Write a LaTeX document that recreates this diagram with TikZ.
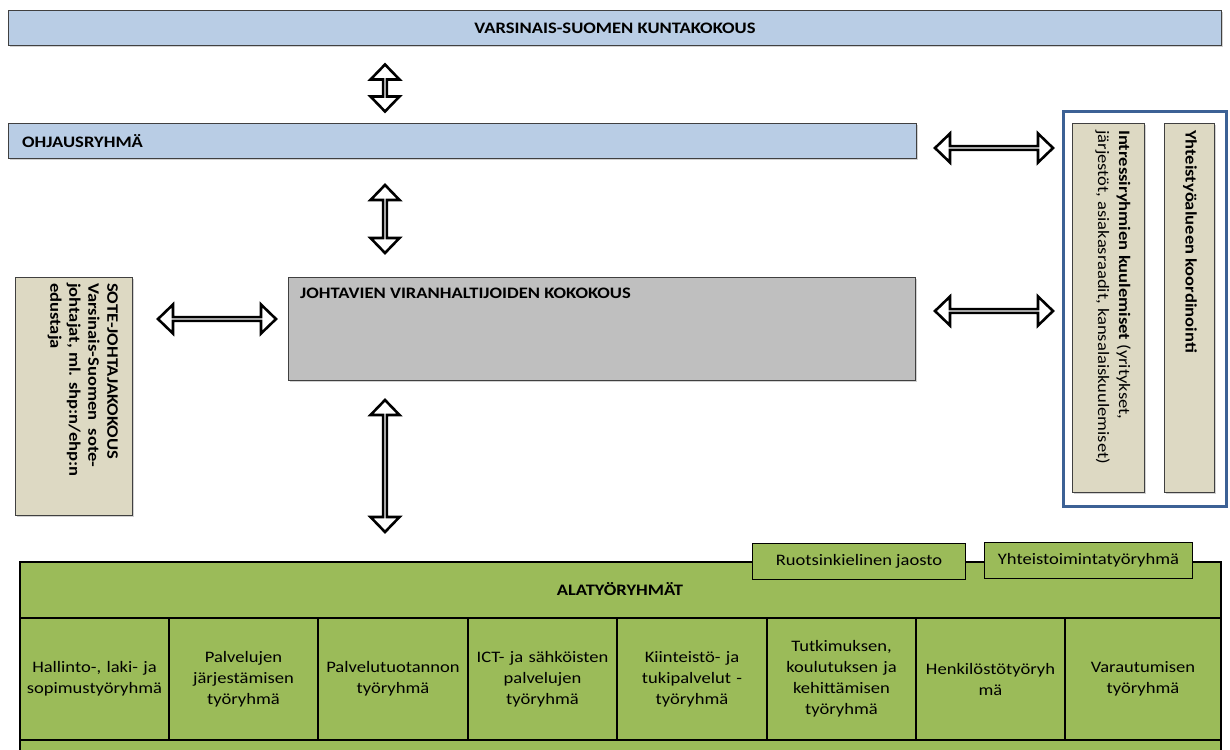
\documentclass[tikz,border=0pt]{standalone}
\usepackage{fontspec}
\setmainfont[FakeStretch=1.16]{Carlito}
\usetikzlibrary{shapes.arrows,shadows}
\definecolor{lblue}{HTML}{B9CDE5}
\definecolor{lgray}{HTML}{BFBFBF}
\definecolor{tan}{HTML}{DDD9C3}
\definecolor{grn}{HTML}{9BBB59}
\definecolor{frameblue}{HTML}{3C6195}
\tikzset{
  box/.style={draw=black!75, line width=0.9pt, anchor=north west, inner sep=0pt,
    drop shadow={shadow xshift=1.5pt, shadow yshift=-2pt, opacity=0.35}},
  dblarr/.style={double arrow, draw=black, fill=white, line width=2.6pt, inner sep=0pt,
    double arrow head extend=8.5pt, double arrow tip angle=88, minimum width=29pt},
  cell/.style={align=center, text width=146pt, font=\fontsize{16}{21}\selectfont},
  tab/.style={draw=black, line width=1pt, fill=grn, anchor=north west, inner sep=0pt,
    font=\fontsize{16}{19}\selectfont},
  rtext/.style={rotate=-90, anchor=north west, inner sep=0pt, align=left}
}
\begin{document}
\begin{tikzpicture}[x=1pt,y=-1pt]
\useasboundingbox (0,0) rectangle (1230,749);
\clip (0,0) rectangle (1230,749);
\fill[white] (0,0) rectangle (1230,749);

% top bar
\node[box, fill=lblue, minimum width=1213pt, minimum height=35pt] (kunta) at (8,10) {};
\node[font=\fontsize{16}{19}\selectfont\bfseries] (kuntat) at (kunta.center) {VARSINAIS-SUOMEN KUNTAKOKOUS};

% ohjausryhma
\node[box, fill=lblue, minimum width=908pt, minimum height=35pt] (ohj) at (8,123) {};
\node[font=\fontsize{16}{19}\selectfont\bfseries, anchor=west, inner sep=0pt] (ohjt) at ([xshift=14pt]ohj.west) {OHJAUSRYHMÄ};

% johtavien
\node[box, fill=lgray, minimum width=627pt, minimum height=103pt] (joht) at (288,277) {};
\node[font=\fontsize{16}{19}\selectfont\bfseries, anchor=north west, inner sep=0pt] (johtt) at (300,288) {JOHTAVIEN VIRANHALTIJOIDEN KOKOKOUS};

% left box
\node[box, fill=tan, minimum width=117pt, minimum height=238pt] (sote) at (15,277) {};
\node[rtext, font=\fontsize{16}{19}\selectfont\bfseries] (sotet) at (118,283)
  {SOTE-JOHTAJAKOKOUS\\Varsinais-Suomen\ \ sote-\\johtajat, ml. shp:n/ehp:n\\edustaja};

% right frame
\node[draw=frameblue, line width=2.8pt, anchor=north west, minimum width=163pt, minimum height=395pt, inner sep=0pt] (frame) at (1062,110) {};
\node[box, fill=tan, minimum width=72pt, minimum height=369pt] (intr) at (1072,123) {};
\node[box, fill=tan, minimum width=50pt, minimum height=369pt] (yht) at (1164,123) {};
\node[rtext, font=\fontsize{16}{21}\selectfont] (intrt) at (1131,130)
  {\textbf{Intressiryhmien kuulemiset} (yritykset,\\järjestöt, asiakasraadit, kansalaiskuulemiset)};
\node[rtext, font=\fontsize{16}{19}\selectfont\bfseries] (yhtt) at (1197,130) {Yhteistyöalueen koordinointi};

% arrows
\node[dblarr, minimum height=47pt, rotate=90] (a1) at (385,88) {};
\node[dblarr, minimum height=68pt, rotate=90] (a2) at (385,219) {};
\node[dblarr, minimum height=132pt, rotate=90] (a3) at (385,466) {};
\node[dblarr, minimum height=118pt] (a4) at (217,319) {};
\node[dblarr, minimum height=118pt] (a5) at (994,148) {};
\node[dblarr, minimum height=118pt] (a6) at (994,311) {};

% green table
\path[draw=black, line width=1.2pt, fill=grn] (20,562) rectangle (1221,770);
\draw[line width=1.2pt] (20,618) -- (1221,618);
\draw[line width=1.2pt] (20,740) -- (1221,740);
\foreach \x in {169,318,468,617,767,916,1065} {
  \draw[line width=1.2pt] (\x,618) -- (\x,740);
}
\node[font=\fontsize{16}{19}\selectfont\bfseries] (ala) at (620,589) {ALATYÖRYHMÄT};
\node[cell] (c1) at (94.5,679) {Hallinto-, laki- ja\\sopimustyöryhmä};
\node[cell] (c2) at (243.5,679) {Palvelujen\\järjestämisen\\työryhmä};
\node[cell] (c3) at (393,679) {Palvelutuotannon\\työryhmä};
\node[cell] (c4) at (542.5,679) {ICT- ja sähköisten\\palvelujen\\työryhmä};
\node[cell] (c5) at (692,679) {Kiinteistö- ja\\tukipalvelut -\\työryhmä};
\node[cell] (c6) at (841.5,679) {Tutkimuksen,\\koulutuksen ja\\kehittämisen\\työryhmä};
\node[cell] (c7) at (990.5,679) {Henkilöstötyöryh\\mä};
\node[cell] (c8) at (1143,679) {Varautumisen\\työryhmä};

% tabs
\node[tab, minimum width=213pt, minimum height=36pt] (ruot) at (752,543) {};
\node[font=\fontsize{16}{19}\selectfont] (ruott) at (ruot.center) {Ruotsinkielinen jaosto};
\node[tab, minimum width=208pt, minimum height=36pt] (yto) at (984,542) {};
\node[font=\fontsize{16}{19}\selectfont] (ytot) at (yto.center) {Yhteistoimintatyöryhmä};
\end{tikzpicture}
\end{document}
